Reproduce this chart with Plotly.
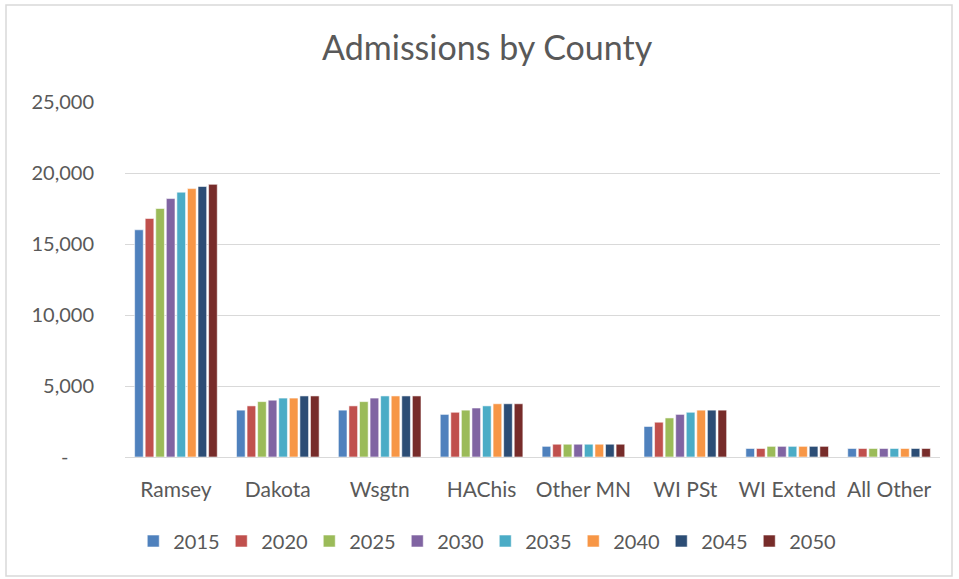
import plotly.graph_objects as go

categories = ["Ramsey", "Dakota", "Wsgtn", "HAChis", "Other MN", "WI PSt", "WI Extend", "All Other"]
years = ["2015", "2020", "2025", "2030", "2035", "2040", "2045", "2050"]

v2015 = [16000, 3300, 3300, 3000, 750, 2150, 600, 600]
v2020 = [16800, 3600, 3600, 3150, 900, 2450, 600, 600]
v2025 = [17500, 3900, 3900, 3300, 900, 2750, 750, 600]
v2030 = [18200, 4000, 4150, 3450, 900, 3000, 750, 600]
v2035 = [18650, 4150, 4300, 3600, 900, 3150, 750, 600]
v2040 = [18900, 4150, 4300, 3750, 900, 3300, 750, 600]
v2045 = [19050, 4300, 4300, 3750, 900, 3300, 750, 600]
v2050 = [19200, 4300, 4300, 3750, 900, 3300, 750, 600]

series = [v2015, v2020, v2025, v2030, v2035, v2040, v2045, v2050]
colors = ["#4F81BD", "#C0504D", "#9BBB59", "#8064A2", "#4BACC6", "#F79646", "#2C4D75", "#772C2A"]

tick_vals = [0, 5000, 10000, 15000, 20000, 25000]
tick_text = ["-     ", "5,000", "10,000", "15,000", "20,000", "25,000"]

fig = go.Figure()
for name, vals, col in zip(years, series, colors):
    fig.add_trace(go.Bar(
        x=categories, y=vals, name=name,
        marker=dict(color=col, line=dict(color="rgba(255,255,255,0.7)", width=0.8)),
    ))

font_family = "Lato, 'Open Sans', sans-serif"
fig.update_layout(
    width=959, height=579,
    paper_bgcolor="white", plot_bgcolor="white",
    barmode="group", bargap=0.17, bargroupgap=0.18,
    margin=dict(l=125, r=19, t=102, b=122),
    title=dict(text="Admissions by County", x=0.508, xref="container", xanchor="center",
               y=0.917, yref="container", yanchor="middle",
               font=dict(family=font_family, size=34, color="#595959")),
    font=dict(family=font_family, color="#595959", size=20),
    xaxis=dict(showgrid=False, showline=True, linecolor="#D9D9D9", linewidth=1,
               tickfont=dict(size=21, color="#595959"),
               ticks="outside", ticklen=14, tickcolor="rgba(0,0,0,0)"),
    yaxis=dict(range=[0, 25000], tickvals=tick_vals, ticktext=tick_text,
               showgrid=True, gridcolor="#D9D9D9", gridwidth=1, zeroline=False,
               tickfont=dict(size=20, color="#595959"),
               ticks="outside", ticklen=26, tickcolor="rgba(0,0,0,0)"),
    legend=dict(orientation="h", xref="container", x=0.506, xanchor="center",
                yref="container", y=0.0656, yanchor="middle",
                font=dict(size=20, color="#595959"), itemwidth=30, tracegroupgap=0,
                entrywidth=43, entrywidthmode="pixels"),
    showlegend=True,
)
fig.add_shape(type="rect", xref="paper", yref="paper",
              x0=(6 - 125) / 815, x1=(952 - 125) / 815,
              y0=(457 - 576) / 355, y1=(457 - 5) / 355,
              line=dict(color="#D9D9D9", width=1.5), fillcolor="rgba(0,0,0,0)", layer="below")

fig.write_html("out.html", config={"displayModeBar": False},
               post_script="document.body.style.margin='0';")
